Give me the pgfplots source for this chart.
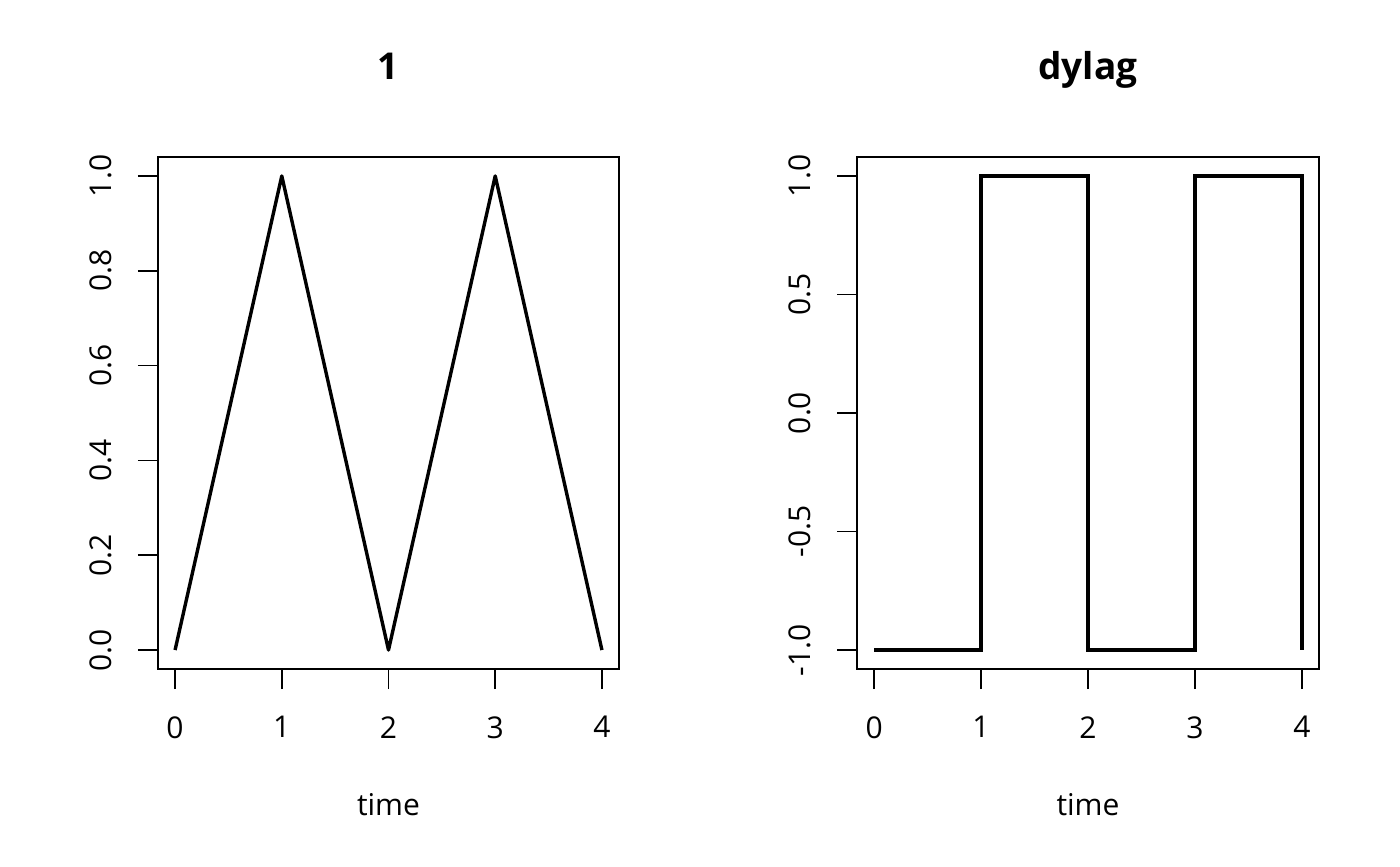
\documentclass[border=0pt]{standalone}
\usepackage{fontspec}
\setmainfont{Open Sans}
\usepackage{pgfplots}
\pgfplotsset{compat=1.18}
\begin{document}
\begin{tikzpicture}
\useasboundingbox (0,0) rectangle (700pt,433pt);
\pgfplotsset{rstyle/.style={
  scale only axis, height=256pt,
  axis line style={line width=0.75pt, black},
  tick align=outside, major tick length=10pt,
  tick style={line width=0.75pt, black},
  xtick={0,1,2,3,4}, xticklabels={0,1,2,3,4},
  xtick pos=bottom, ytick pos=left,
  xmin=-0.16, xmax=4.16,
  every tick label/.append style={font=\fontsize{15}{18}\selectfont, inner sep=0pt},
  xticklabel style={anchor=north},
  xticklabel shift=13.5pt,
  yticklabel style={rotate=90, anchor=south},
  yticklabel shift=13pt,
  title style={font=\bfseries\fontsize{18.5}{21}\selectfont, at={(0.5,1)}, anchor=base, yshift=32.5pt, inner sep=0pt},
  xlabel style={font=\fontsize{15}{18}\selectfont, at={(axis description cs:0.5,0)}, anchor=base, yshift=-73pt, inner sep=0pt},
  xlabel={time},
  clip=false,
}}
\begin{axis}[rstyle, at={(79pt,98.5pt)}, anchor=south west, width=230.5pt,
  ymin=-0.04, ymax=1.04, ytick={0,0.2,0.4,0.6,0.8,1.0},
  yticklabels={{0.0},{0.2},{0.4},{0.6},{0.8},{1.0}}, title={1}]
\addplot[black, line width=1.7pt, line join=round] coordinates {(0,0) (1,1) (2,0) (3,1) (4,0)};
\end{axis}
\begin{axis}[rstyle, at={(428.5pt,98.5pt)}, anchor=south west, width=231pt,
  ymin=-1.08, ymax=1.08, ytick={-1,-0.5,0,0.5,1},
  yticklabels={{-1.0},{-0.5},{0.0},{0.5},{1.0}}, title={dylag}]
\addplot[black, line width=1.7pt, line join=miter] coordinates {(0,-1) (1,-1) (1,1) (2,1) (2,-1) (3,-1) (3,1) (4,1) (4,-1)};
\end{axis}
\end{tikzpicture}
\end{document}
